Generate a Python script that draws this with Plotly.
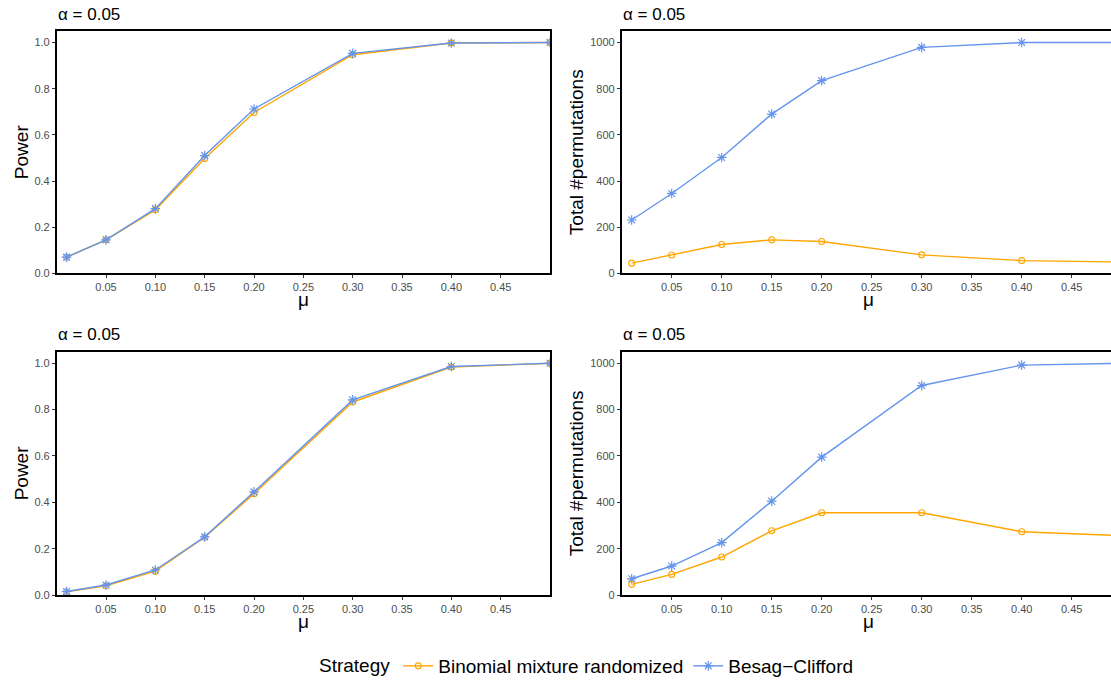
import plotly.graph_objects as go

# ---------------- data ----------------
mu = [0.01, 0.05, 0.10, 0.15, 0.20, 0.30, 0.40, 0.50]

power_top_binom = [0.070, 0.145, 0.275, 0.497, 0.697, 0.947, 0.998, 1.000]
power_top_besag = [0.070, 0.145, 0.280, 0.510, 0.712, 0.953, 0.998, 1.000]

perm_top_binom = [44, 79, 125, 145, 138, 80, 55, 49]
perm_top_besag = [231, 346, 502, 690, 835, 979, 1000, 1000]

power_bot_binom = [0.014, 0.040, 0.103, 0.249, 0.437, 0.833, 0.984, 1.000]
power_bot_besag = [0.015, 0.043, 0.108, 0.251, 0.445, 0.842, 0.986, 1.000]

perm_bot_binom = [46, 89, 164, 277, 355, 355, 273, 256]
perm_bot_besag = [70, 125, 226, 405, 595, 904, 992, 1000]

x_tickvals = [0.05, 0.10, 0.15, 0.20, 0.25, 0.30, 0.35, 0.40, 0.45]
power_tickvals = [0.0, 0.2, 0.4, 0.6, 0.8, 1.0]
perm_tickvals = [0, 200, 400, 600, 800, 1000]

series_names = ["Binomial mixture randomized", "Besag\u2212Clifford"]
ORANGE = "#FFA500"
BLUE = "#6495ED"

W, H = 1111, 686
FONT = "Liberation Sans, Arial, sans-serif"

fig = go.Figure()

panels = [
    ("x", "y", power_top_binom, power_top_besag),
    ("x2", "y2", perm_top_binom, perm_top_besag),
    ("x3", "y3", power_bot_binom, power_bot_besag),
    ("x4", "y4", perm_bot_binom, perm_bot_besag),
]

for i, (xa, ya, yb, yc) in enumerate(panels):
    fig.add_trace(go.Scatter(
        x=mu, y=yb, xaxis=xa, yaxis=ya, mode="lines+markers",
        name=series_names[0], legendgroup="b", showlegend=(i == 0),
        line=dict(color=ORANGE, width=1.4),
        marker=dict(symbol="circle-open", size=6, color=ORANGE,
                    line=dict(color=ORANGE, width=1.1)),
    ))
    fig.add_trace(go.Scatter(
        x=mu, y=yc, xaxis=xa, yaxis=ya, mode="lines+markers",
        name=series_names[1], legendgroup="c", showlegend=(i == 0),
        line=dict(color=BLUE, width=1.4),
        marker=dict(symbol="asterisk-open", size=8, color=BLUE,
                    line=dict(color=BLUE, width=1.2)),
    ))

# domains in paper fractions (margins are zero)
xL = [56.7 / W, 550.0 / W]
xR = [621.7 / W, 1.0]
yT = [(H - 273.3) / H, (H - 31.0) / H]
yB = [(H - 595.0) / H, (H - 351.7) / H]

tickfont = dict(family=FONT, size=11, color="#4D4D4D")

def xaxis(domain, anchor, rng):
    return dict(
        domain=domain, anchor=anchor, range=rng, autorange=False,
        tickmode="array", tickvals=x_tickvals, tickformat=".2f",
        showgrid=False, zeroline=False, showline=True, mirror=True,
        linecolor="black", linewidth=1.6,
        ticks="outside", ticklen=3, tickwidth=1, tickcolor="#333333",
        tickfont=tickfont, automargin=False,
    )

def yaxis(domain, anchor, rng, tickvals, fmt, mirror):
    return dict(
        domain=domain, anchor=anchor, range=rng, autorange=False,
        tickmode="array", tickvals=tickvals, tickformat=fmt,
        showgrid=False, zeroline=False, showline=True, mirror=mirror,
        linecolor="black", linewidth=1.6,
        ticks="outside", ticklen=3, tickwidth=1, tickcolor="#333333",
        tickfont=tickfont, automargin=False,
    )

fig.update_layout(
    xaxis=xaxis(xL, "y", [0, 0.5]),
    yaxis=yaxis(yT, "x", [0, 1.05], power_tickvals, ".1f", True),
    xaxis2=xaxis(xR, "y2", [0, (W - 621.7) / 1000.0]),
    yaxis2=yaxis(yT, "x2", [0, 1050], perm_tickvals, "d", False),
    xaxis3=xaxis(xL, "y3", [0, 0.5]),
    yaxis3=yaxis(yB, "x3", [0, 1.05], power_tickvals, ".1f", True),
    xaxis4=xaxis(xR, "y4", [0, (W - 621.7) / 1000.0]),
    yaxis4=yaxis(yB, "x4", [0, 1050], perm_tickvals, "d", False),
)

annotations = []
title_font = dict(family=FONT, size=17, color="black")
axis_title_font = dict(family=FONT, size=19, color="black")

for xd, yd, xcen in [(xL, yT, (56.7 + 550.0) / 2), (xR, yT, 621.7 + 246.7),
                     (xL, yB, (56.7 + 550.0) / 2), (xR, yB, 621.7 + 246.7)]:
    annotations.append(dict(
        text="\u03b1 = 0.05", x=xd[0] - 1 / W, y=yd[1] + 17 / H, xref="paper", yref="paper",
        xanchor="left", yanchor="middle", showarrow=False, font=title_font,
    ))
    annotations.append(dict(
        text="\u03bc", x=xcen / W, y=yd[0] - 26 / H, xref="paper", yref="paper",
        xanchor="center", yanchor="middle", showarrow=False, font=axis_title_font,
    ))

for xpos, yd, txt in [(21 / W, yT, "Power"), (21 / W, yB, "Power"),
                      (576 / W, yT, "Total #permutations"), (576 / W, yB, "Total #permutations")]:
    annotations.append(dict(
        text=txt, x=xpos, y=(yd[0] + yd[1]) / 2, xref="paper", yref="paper",
        xanchor="center", yanchor="middle", textangle=-90, showarrow=False,
        font=axis_title_font,
    ))

fig.update_layout(
    width=W, height=H,
    margin=dict(l=0, r=0, t=0, b=0),
    paper_bgcolor="white", plot_bgcolor="white",
    font=dict(family=FONT, color="black"),
    annotations=annotations,
    showlegend=True,
    legend=dict(
        orientation="h", x=588 / W, xanchor="center", y=20 / H, yanchor="middle",
        title=dict(text="Strategy", side="left", font=dict(family=FONT, size=19)),
        font=dict(family=FONT, size=19, color="black"),
        itemwidth=30, bgcolor="rgba(0,0,0,0)",
    ),
)

fig.write_html("out.html", config={"displayModeBar": False},
               post_script="document.body.style.margin='0px';document.body.style.padding='0px';")
